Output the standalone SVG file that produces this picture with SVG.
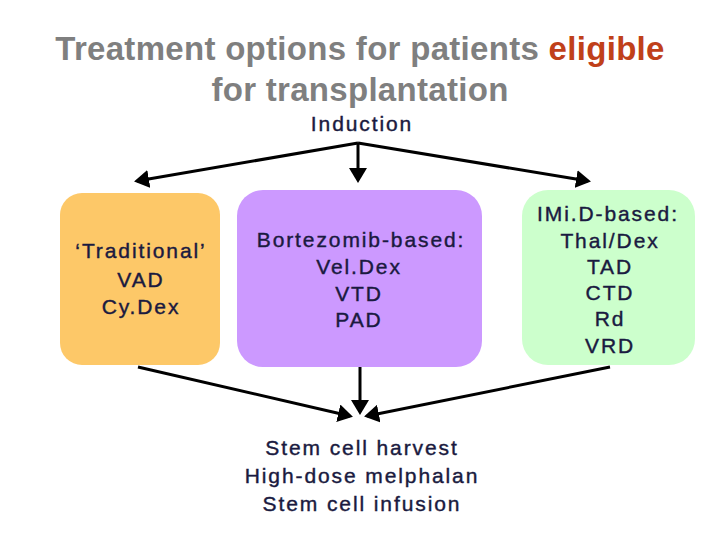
<svg xmlns="http://www.w3.org/2000/svg" width="720" height="540" viewBox="0 0 720 540">
<style>
text{font-family:"Liberation Sans",Arial,sans-serif;text-anchor:middle}
.t{font-size:33px;font-weight:bold;fill:#7f7f7f;letter-spacing:0.3px}
.n{font-size:21px;fill:#1a1a40;letter-spacing:1.9px;stroke:#1a1a40;stroke-width:0.4}
.c{stroke:#000;stroke-width:3;fill:none;marker-end:url(#a)}
</style>
<defs><marker id="a" markerWidth="6" markerHeight="6" refX="4" refY="3" orient="auto" markerUnits="strokeWidth"><path d="M0,0L5,3L0,6Z" fill="#000"/></marker></defs>
<rect width="720" height="540" fill="#fff"/>
<g id="title"><text class="t" x="360" y="60">Treatment options for patients <tspan fill="#c0401a">eligible</tspan></text>
<text class="t" x="360" y="101">for transplantation</text></g>
<g id="induction"><text class="n" x="362" y="131">Induction</text></g>
<g id="traditional"><rect x="60" y="193" width="160" height="172" rx="22" fill="#fdc868"/>
<text class="n" x="141" y="258">‘Traditional’</text><text class="n" x="141" y="287">VAD</text><text class="n" x="141" y="314">Cy.Dex</text></g>
<g id="bortezomib"><rect x="237" y="190" width="245" height="177" rx="26" fill="#cc99ff"/>
<text class="n" x="361" y="247">Bortezomib-based:</text><text class="n" x="359" y="274">Vel.Dex</text><text class="n" x="359" y="301">VTD</text><text class="n" x="359" y="327">PAD</text></g>
<g id="imid"><rect x="522" y="190" width="173" height="175" rx="26" fill="#ccffcc"/>
<text class="n" x="608" y="221">IMi.D-based:</text><text class="n" x="610" y="248">Thal/Dex</text><text class="n" x="610" y="274">TAD</text><text class="n" x="610" y="300">CTD</text><text class="n" x="610" y="326">Rd</text><text class="n" x="610" y="353">VRD</text></g>
<g id="sct"><text class="n" x="362" y="455">Stem cell harvest</text><text class="n" x="362" y="483">High-dose melphalan</text><text class="n" x="362" y="511">Stem cell infusion</text></g>
<g id="connectors">
<path class="c" d="M358,143L137,181"/><path class="c" d="M358,143V180"/><path class="c" d="M358,143L588,181"/>
<path class="c" d="M138,367L350,416"/><path class="c" d="M360,367V412"/><path class="c" d="M610,367L367,416"/>
</g>
</svg>
